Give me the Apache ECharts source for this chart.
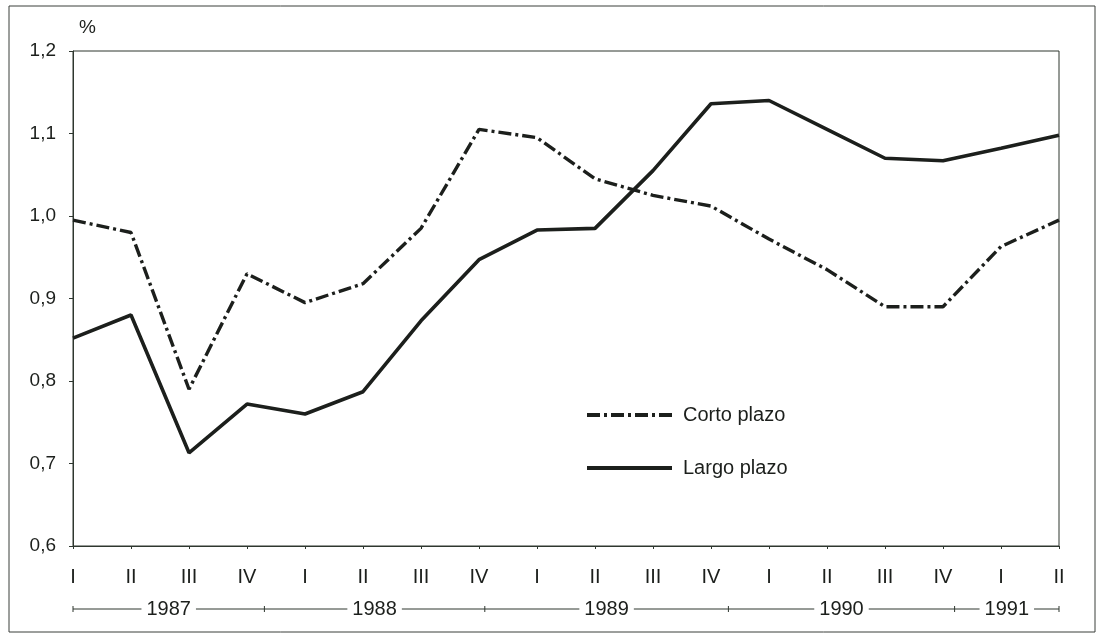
<!DOCTYPE html>
<html>
<head>
<meta charset="utf-8">
<script src="https://cdn.jsdelivr.net/npm/echarts@6/dist/echarts.min.js"></script>
<style>
  html, body { margin: 0; padding: 0; background: #fff; }
  #chart { width: 1100px; height: 635px; }
</style>
</head>
<body>
<div id="chart"></div>
<script>
// quarters, 1987 I .. 1991 II
var quarters = ['I', 'II', 'III', 'IV', 'I', 'II', 'III', 'IV', 'I', 'II', 'III', 'IV', 'I', 'II', 'III', 'IV', 'I', 'II'];
var corto = [0.995, 0.980, 0.790, 0.930, 0.895, 0.918, 0.985, 1.105, 1.095, 1.045, 1.025, 1.012, 0.972, 0.935, 0.890, 0.890, 0.963, 0.995];
var largo = [0.852, 0.880, 0.713, 0.772, 0.760, 0.787, 0.873, 0.947, 0.983, 0.985, 1.055, 1.136, 1.140, 1.105, 1.070, 1.067, 1.082, 1.098];
var years = ['1987', '1988', '1989', '1990', '1991'];
// year separators, as (fractional) category index
var yearBreaks = [0, 3.3, 7.1, 11.3, 15.2, 17.05];

var ink = '#1c1f1c';
var axisInk = '#2e372f';
var font = 'Liberation Sans, Arial, sans-serif';

var dom = document.getElementById('chart');
var myChart = echarts.init(dom);

var option = {
    animation: false,
    backgroundColor: '#fff',
    grid: {
        left: 73,
        right: 41,
        top: 51,
        bottom: 89,
        show: true,
        borderColor: axisInk,
        borderWidth: 1
    },
    legend: {
        orient: 'vertical',
        left: 580,
        top: 400,
        itemWidth: 85,
        itemHeight: 14,
        itemGap: 33,
        itemStyle: { opacity: 0 },
        lineStyle: { width: 4 },
        textStyle: { fontFamily: font, fontSize: 20, color: ink, padding: [0, 0, 0, 6] },
        data: ['Corto plazo', 'Largo plazo']
    },
    xAxis: {
        type: 'category',
        boundaryGap: false,
        data: quarters,
        axisLine: { lineStyle: { color: axisInk, width: 1 } },
        axisTick: { alignWithLabel: true, length: 3, lineStyle: { color: axisInk } },
        axisLabel: { fontFamily: font, fontSize: 20, color: ink, margin: 21, interval: 0 },
        splitLine: { show: false }
    },
    yAxis: {
        type: 'value',
        min: 0.6,
        max: 1.2,
        interval: 0.1,
        name: '%',
        nameGap: 14,
        nameTextStyle: { fontFamily: font, fontSize: 19, color: ink, align: 'left', padding: [0, 0, 0, 6] },
        axisLine: { show: true, lineStyle: { color: axisInk, width: 1 } },
        axisTick: { show: true, length: 4, lineStyle: { color: axisInk } },
        axisLabel: {
            fontFamily: font, fontSize: 19, color: ink, margin: 17,
            formatter: function (v) { return v.toFixed(1).replace('.', ','); }
        },
        splitLine: { show: false }
    },
    series: [
        {
            name: 'Corto plazo',
            type: 'line',
            data: corto,
            symbol: 'none',
            itemStyle: { color: ink },
            lineStyle: { color: ink, width: 3.4, type: [13, 4, 3, 4] }
        },
        {
            name: 'Largo plazo',
            type: 'line',
            data: largo,
            symbol: 'none',
            itemStyle: { color: ink },
            lineStyle: { color: ink, width: 3.6 }
        }
    ]
};
myChart.setOption(option);

// year row below the quarter labels
function xAt(idx) {
    var a = myChart.convertToPixel({ xAxisIndex: 0 }, Math.floor(idx));
    var b = myChart.convertToPixel({ xAxisIndex: 0 }, Math.min(Math.floor(idx) + 1, quarters.length - 1));
    return a + (b - a) * (idx - Math.floor(idx));
}
var yearY = 609;
var gfx = [];
// outer frame
gfx.push({ type: 'rect', shape: { x: 9, y: 6, width: 1086, height: 626 }, style: { fill: null, stroke: '#3a3f3a', lineWidth: 1 }, z: 0 });
var x0 = xAt(yearBreaks[0]), x1 = xAt(yearBreaks[yearBreaks.length - 1]);
gfx.push({ type: 'line', shape: { x1: x0, y1: yearY, x2: x1, y2: yearY }, style: { stroke: axisInk, lineWidth: 1 }, z: 10 });
yearBreaks.forEach(function (b) {
    var x = xAt(b);
    gfx.push({ type: 'line', shape: { x1: x, y1: yearY - 3, x2: x, y2: yearY + 3 }, style: { stroke: axisInk, lineWidth: 1 }, z: 10 });
});
years.forEach(function (y, i) {
    var cx = (xAt(yearBreaks[i]) + xAt(yearBreaks[i + 1])) / 2;
    gfx.push({
        type: 'text', x: cx, y: yearY, z: 20,
        style: {
            text: y, fontFamily: font, fontSize: 20, fill: ink,
            align: 'center', verticalAlign: 'middle',
            backgroundColor: '#fff', padding: [0, 5]
        }
    });
});
myChart.setOption({ graphic: gfx });
</script>
</body>
</html>
